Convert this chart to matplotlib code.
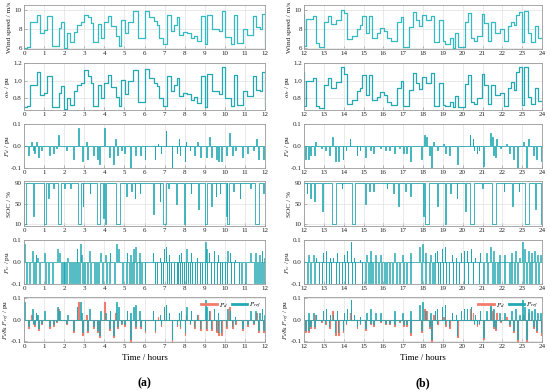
import numpy as np
import matplotlib
matplotlib.use("Agg")
from matplotlib import pyplot as plt
from matplotlib.ticker import FormatStrFormatter
from matplotlib.lines import Line2D

plt.rcParams["font.family"] = ["Liberation Serif", "DejaVu Serif"]
plt.rcParams["mathtext.fontset"] = "stix"
plt.rcParams["axes.unicode_minus"] = False

# wind speed steps: hour where the step starts, speed (m/s), rotor speed (pu)
wind_t = [0.0, 0.15, 0.3, 0.65, 0.8, 1.0, 1.15, 1.4, 1.75, 1.85,
          2.0, 2.12, 2.3, 2.5, 2.65, 2.85, 3.0, 3.2, 3.35, 3.45,
          3.7, 3.85, 4.0, 4.2, 4.35, 4.6, 4.75, 4.85, 5.05, 5.2,
          5.45, 5.7, 6.0, 6.2, 6.45, 6.6, 6.7, 6.9, 7.1, 7.3,
          7.45, 7.6, 7.7, 7.9, 8.1, 8.3, 8.45, 8.6, 8.8, 9.0,
          9.1, 9.35, 9.7, 9.85, 10.0, 10.3, 10.45, 10.6, 10.9, 11.1,
          11.4, 11.55, 11.75, 11.85,
          12.0, 12.1, 12.45, 12.6, 12.75, 13.0, 13.2, 13.35, 13.6, 13.85,
          14.0, 14.15, 14.4, 14.65, 14.8, 14.9, 15.15, 15.3, 15.45, 15.7,
          15.85, 16.05, 16.2, 16.4, 16.7, 16.9, 17.0, 17.3, 17.5, 17.65,
          17.8, 17.95, 18.15, 18.4, 18.55, 18.8, 19.0, 19.1, 19.35, 19.5,
          19.6, 19.75, 20.1, 20.25, 20.4, 20.55, 20.7, 20.95, 21.1, 21.3,
          21.45, 21.65, 21.9, 22.1, 22.3, 22.45, 22.6, 22.7, 22.85, 23.0,
          23.1, 23.3, 23.45, 23.65, 23.8]
wind_v = [6.0, 6.1, 8.7, 9.5, 7.6, 7.9, 9.3, 6.2, 8.1, 8.7,
          6.0, 7.6, 6.6, 7.7, 8.4, 8.7, 9.5, 9.2, 8.6, 6.6,
          8.5, 7.1, 8.7, 9.4, 8.3, 7.3, 6.2, 8.9, 7.6, 8.7,
          9.9, 7.0, 9.9, 9.2, 8.8, 8.4, 7.0, 6.4, 9.5, 7.8,
          8.4, 9.2, 7.4, 7.7, 7.6, 7.0, 7.3, 6.7, 9.4, 6.4,
          9.5, 8.0, 7.8, 9.9, 7.2, 6.4, 9.5, 6.5, 8.0, 7.4,
          9.4, 8.2, 8.0, 9.6,
          6.2, 9.0, 9.3, 6.5, 6.1, 8.7, 9.4, 8.5, 8.9, 10.0,
          9.7, 6.9, 7.3, 8.0, 8.4, 9.4, 7.6, 9.4, 7.1, 7.6,
          8.1, 7.8, 7.0, 6.7, 8.7, 9.2, 6.1, 8.2, 9.8, 8.9,
          8.3, 9.5, 8.9, 9.3, 6.6, 8.9, 6.7, 6.4, 7.1, 6.0,
          7.6, 6.1, 8.7, 9.7, 7.0, 6.7, 7.3, 9.6, 8.6, 6.7,
          8.7, 7.6, 8.0, 6.7, 8.3, 8.7, 8.4, 9.5, 9.8, 6.6,
          9.9, 7.6, 6.6, 8.3, 7.0]
wr_v = [0.70, 0.71, 0.95, 1.10, 0.84, 0.86, 1.05, 0.70, 0.86, 0.94,
        0.68, 0.80, 0.73, 0.88, 0.95, 0.97, 1.12, 1.05, 0.98, 0.72,
        0.95, 0.80, 0.97, 1.07, 0.93, 0.82, 0.72, 1.01, 0.85, 1.00,
        1.12, 0.76, 1.13, 1.03, 0.97, 0.94, 0.80, 0.72, 1.05, 0.88,
        0.95, 1.03, 0.83, 0.86, 0.85, 0.78, 0.82, 0.75, 1.05, 0.70,
        1.08, 0.88, 0.85, 1.15, 0.80, 0.72, 1.07, 0.73, 0.88, 0.83,
        1.05, 0.90, 0.88, 1.10,
        0.72, 1.00, 1.03, 0.72, 0.69, 0.95, 1.03, 0.92, 0.99, 1.15,
        1.08, 0.74, 0.78, 0.88, 0.92, 1.06, 0.84, 1.06, 0.78, 0.82,
        0.87, 0.84, 0.76, 0.73, 0.92, 1.00, 0.71, 0.90, 1.09, 0.98,
        0.91, 1.04, 0.97, 1.09, 0.72, 0.97, 0.73, 0.71, 0.76, 0.70,
        0.83, 0.70, 0.96, 1.07, 0.76, 0.74, 0.80, 1.08, 0.95, 0.74,
        0.95, 0.84, 0.86, 0.72, 0.92, 0.99, 0.90, 1.10, 1.15, 0.73,
        1.15, 0.82, 0.74, 0.92, 0.77]

# P_d spikes
pd_neg_t = [0.2, 0.45, 0.5, 0.7, 0.85, 1.25, 1.45, 1.6, 2.1, 2.45,
            2.9, 3.15, 3.45, 3.65, 3.75, 4.25, 4.45, 4.65, 4.85, 5.0,
            5.3, 5.55, 5.8, 6.0, 6.5, 6.8, 7.35, 7.6, 7.75, 8.0,
            8.25, 8.45, 8.75, 9.05, 9.3, 9.55, 9.65, 9.8, 10.05, 10.35,
            10.5, 10.85, 11.1, 11.4, 11.65, 11.9,
            12.05, 12.2, 12.3, 12.5, 12.85, 13.05, 13.25, 13.55, 13.7, 13.95,
            14.1, 14.65, 14.8, 15.1, 15.35, 15.5, 15.85, 16.1, 16.3, 16.55,
            16.8, 17.0, 17.15, 17.35, 17.9, 18.3, 18.4, 18.7, 19.1, 19.3,
            19.7, 20.55, 20.7, 20.8, 21.05, 21.55, 21.65, 21.9, 22.35, 22.55,
            22.75, 23.2, 23.55, 23.7, 23.95]
pd_neg_v = [-0.04, -0.02, -0.03, -0.05, -0.02, -0.04, -0.03, -0.01, -0.02, -0.06,
            -0.07, -0.06, -0.04, -0.06, -0.08, -0.05, -0.08, -0.04, -0.02, -0.03,
            -0.10, -0.04, -0.04, -0.06, -0.06, -0.03, -0.10, -0.03, -0.04, -0.07,
            -0.02, -0.04, -0.05, -0.05, -0.05, -0.06, -0.07, -0.07, -0.04, -0.04,
            -0.02, -0.05, -0.03, -0.02, -0.06, -0.06,
            -0.06, -0.06, -0.04, -0.04, -0.01, -0.02, -0.04, -0.07, -0.07, -0.06,
            -0.02, -0.04, -0.02, -0.05, -0.02, -0.03, -0.01, -0.02, -0.02, -0.03,
            -0.01, -0.03, -0.03, -0.07, -0.06, -0.04, -0.10, -0.02, -0.03, -0.04,
            -0.08, -0.02, -0.03, -0.02, -0.09, -0.04, -0.05, -0.01, -0.03, -0.06,
            -0.10, -0.10, -0.04, -0.06, -0.07]
pd_pos_t = [0.35, 0.6, 1.7, 2.7, 3.1, 4.0, 4.55, 6.65, 7.05, 7.7,
            8.05, 8.6, 9.2, 10.2, 11.55,
            12.55, 13.4, 14.3, 18.05, 18.15, 18.5, 19.0, 20.35, 20.5, 21.4,
            21.48, 21.7, 22.2, 23.05, 23.3]
pd_pos_v = [0.02, 0.02, 0.05, 0.08, 0.02, 0.08, 0.03, 0.01, 0.07, 0.03,
            0.02, 0.02, 0.04, 0.06, 0.03,
            0.02, 0.04, 0.03, 0.05, 0.04, 0.02, 0.01, 0.05, 0.03, 0.06,
            0.04, 0.03, 0.01, 0.02, 0.03]
# P_ref dips at the P_d dip times
pref_neg_v = [-0.03, -0.015, -0.02, -0.04, -0.015, -0.03, -0.02, -0.008, -0.015, -0.05,
              -0.06, -0.05, -0.03, -0.05, -0.07, -0.04, -0.07, -0.03, -0.015, -0.02,
              -0.09, -0.03, -0.03, -0.05, -0.05, -0.02, -0.09, -0.02, -0.03, -0.06,
              -0.015, -0.03, -0.04, -0.04, -0.04, -0.05, -0.06, -0.06, -0.03, -0.03,
              -0.015, -0.04, -0.02, -0.015, -0.05, -0.05,
              -0.05, -0.05, -0.03, -0.03, -0.008, -0.015, -0.03, -0.06, -0.06, -0.05,
              -0.015, -0.03, -0.015, -0.04, -0.015, -0.02, -0.008, -0.015, -0.015, -0.02,
              -0.008, -0.02, -0.02, -0.06, -0.05, -0.03, -0.09, -0.015, -0.02, -0.03,
              -0.07, -0.015, -0.02, -0.015, -0.08, -0.03, -0.04, -0.008, -0.02, -0.05,
              -0.09, -0.09, -0.03, -0.05, -0.06]

# SOC dips: start hour, end hour, lowest SOC (%)
soc_t0 = [0.0, 0.45, 1.02, 1.2, 1.45, 1.7, 2.0, 2.3, 2.7, 2.93,
          3.28, 3.62, 3.93, 4.05, 4.6, 5.1, 5.35, 5.52, 5.78, 6.42,
          6.75, 6.94, 7.18, 7.58, 7.98, 8.3, 8.66, 9.0, 9.33, 9.55,
          9.75, 10.05, 10.12, 10.42, 10.75, 11.25, 11.5, 11.9,
          12.13, 12.3, 12.5, 12.9, 13.4, 13.9, 14.4, 15.08, 15.3, 15.5,
          16.18, 16.5, 16.76, 17.1, 17.35, 18.0, 18.1, 18.7, 19.12, 19.37,
          19.7, 20.13, 20.38, 20.97, 21.48, 22.07, 22.49, 22.82, 23.16, 23.67,
          23.95]
soc_t1 = [0.08, 0.48, 1.08, 1.23, 1.47, 1.86, 2.02, 2.32, 2.82, 2.96,
          3.31, 3.77, 4.0, 4.1, 4.76, 5.13, 5.37, 5.55, 5.8, 6.46,
          6.78, 7.08, 7.2, 7.62, 8.04, 8.33, 8.7, 9.1, 9.36, 9.58,
          9.78, 10.1, 10.22, 10.45, 10.78, 11.28, 11.72, 11.93,
          12.16, 12.33, 12.54, 12.95, 13.6, 13.93, 14.58, 15.12, 15.33, 15.53,
          16.21, 16.53, 16.8, 17.13, 17.38, 18.04, 18.28, 18.74, 19.18, 19.4,
          19.73, 20.18, 20.55, 21.0, 21.68, 22.1, 22.53, 22.85, 23.36, 23.72,
          24.0]
soc_min = [10, 25, 10, 60, 80, 10, 80, 80, 10, 45,
           70, 10, 22, 10, 10, 65, 75, 60, 70, 30,
           55, 10, 80, 50, 10, 70, 40, 10, 45, 65,
           70, 25, 10, 75, 60, 80, 10, 70,
           70, 60, 55, 35, 10, 80, 10, 50, 75, 75,
           80, 70, 45, 75, 65, 25, 10, 45, 10, 70,
           60, 35, 10, 80, 10, 75, 45, 75, 10, 40,
           10]

# P_w: saturated negative pulses and positive spikes
pw_min = -0.095
pw_neg_t = [0.1, 0.25, 0.45, 0.55, 0.75, 1.05, 1.2, 1.4, 1.85, 1.95,
            2.0, 2.1, 2.25, 2.35, 2.45, 2.55, 2.65, 2.75, 2.9, 3.0,
            3.15, 3.3, 3.5, 3.6, 3.7, 3.9, 4.1, 4.25, 4.5, 4.9,
            5.1, 5.25, 5.35, 5.45, 5.6, 5.75, 5.85, 6.0, 6.5, 6.6,
            6.8, 6.9, 7.1, 7.2, 7.3, 7.45, 7.6, 7.65, 7.75, 7.85,
            7.95, 8.05, 8.15, 8.25, 8.35, 8.5, 8.6, 8.75, 8.85, 9.0,
            9.1, 9.3, 9.45, 9.6, 9.75, 9.85, 10.0, 10.1, 10.3, 10.45,
            10.7, 10.8, 11.0, 11.45, 11.55, 11.65, 11.75, 11.85, 11.95,
            12.15, 12.3, 12.5, 12.75, 12.9, 13.1, 13.25, 13.35, 13.6, 13.75,
            13.9, 14.05, 14.2, 14.4, 14.55, 14.9, 15.1, 15.25, 15.35, 15.45,
            15.6, 15.75, 15.9, 16.05, 16.15, 16.3, 16.45, 16.65, 16.8, 17.0,
            17.15, 17.35, 17.9, 18.1, 18.3, 18.45, 18.55, 18.75, 18.85, 19.0,
            19.15, 19.3, 19.5, 19.65, 19.8, 20.05, 20.25, 20.5, 20.8, 21.05,
            21.25, 21.5, 21.6, 21.75, 21.85, 22.1, 22.35, 22.45, 22.6, 22.75,
            23.05, 23.2, 23.35, 23.45, 23.65, 23.8]
pw_pos_t = [0.02, 0.4, 0.58, 0.65, 1.0, 1.65, 1.75, 2.15, 2.62, 2.79,
            2.85, 3.25, 3.8, 4.05, 4.27, 4.58, 4.68, 5.12, 5.3, 5.45,
            5.55, 5.75, 6.4, 6.75, 6.95, 7.05, 7.2, 7.7, 7.8, 8.07,
            8.3, 8.6, 9.01, 9.08, 9.2, 9.45, 9.65, 10.12, 10.25, 10.5,
            11.25, 11.5, 11.7, 11.83, 11.95,
            12.2, 12.45, 12.6, 12.95, 13.1, 13.3, 13.45, 13.65, 14.0, 14.15,
            14.35, 14.5, 14.8, 15.15, 15.35, 15.6, 15.85, 16.55, 16.95, 17.35,
            17.8, 17.95, 18.1, 18.35, 18.6, 18.7, 18.95, 19.1, 19.45, 19.65,
            19.9, 20.05, 20.2, 20.4, 20.6, 20.85, 21.2, 21.4, 21.55, 21.85,
            22.1, 22.45, 22.65, 22.85, 23.0, 23.1, 23.3, 23.45, 23.6, 23.75,
            23.9]
pw_pos_v = [0.08, 0.05, 0.03, 0.02, 0.04, 0.06, 0.04, 0.02, 0.06, 0.08,
            0.03, 0.05, 0.04, 0.03, 0.04, 0.08, 0.06, 0.04, 0.03, 0.06,
            0.07, 0.04, 0.04, 0.02, 0.06, 0.07, 0.03, 0.03, 0.04, 0.06,
            0.04, 0.02, 0.09, 0.06, 0.04, 0.05, 0.03, 0.05, 0.04, 0.01,
            0.04, 0.04, 0.03, 0.05, 0.02,
            0.03, 0.03, 0.02, 0.04, 0.05, 0.02, 0.02, 0.04, 0.03, 0.05,
            0.09, 0.02, 0.01, 0.03, 0.05, 0.03, 0.03, 0.04, 0.03, 0.04,
            0.07, 0.08, 0.04, 0.03, 0.04, 0.05, 0.06, 0.07, 0.03, 0.02,
            0.04, 0.05, 0.05, 0.06, 0.02, 0.04, 0.04, 0.07, 0.05, 0.03,
            0.03, 0.04, 0.05, 0.02, 0.09, 0.06, 0.05, 0.04, 0.05, 0.03,
            0.03]

TEAL = "#23a9b3"
RED = "#f47b6b"


def steps(t, v, t_end=24.0):
    return np.append(t, t_end), np.append(v, v[-1])


def pulses(t, v, width, base=0.0, t_end=24.0):
    t = np.asarray(t, float)
    v = np.asarray(v, float)
    xs, ys = [0.0], [base]
    for i in np.argsort(t):
        xs += [t[i], t[i], t[i] + width, t[i] + width]
        ys += [base, v[i], v[i], base]
    xs.append(t_end)
    ys.append(base)
    return np.array(xs), np.array(ys)


def dips(t0, t1, vmin, base=90.0, t_end=24.0):
    xs, ys = [0.0], [base]
    for a, b, m in zip(t0, t1, vmin):
        xs += [a, a, b, b]
        ys += [base, m, m, base]
    xs.append(t_end)
    ys.append(base)
    return np.array(xs), np.array(ys)


fig = plt.figure(figsize=(5.5, 3.92), dpi=100)
W, H = 550.0, 392.0
cols = [(24, 241, 0, "(a)"), (304, 238, 12, "(b)")]
rows = [(5, 49), (63, 110), (124, 168), (181, 226), (240, 284), (297, 342)]

wx, wy = steps(wind_t, wind_v)
rx, ry = steps(wind_t, wr_v)
pd_x, pd_y = pulses(pd_neg_t + pd_pos_t, pd_neg_v + pd_pos_v, 0.04)
sx, sy = dips(soc_t0, soc_t1, soc_min)
pw_x, pw_y = pulses(pw_neg_t + pw_pos_t, [pw_min] * len(pw_neg_t) + pw_pos_v, 0.03)
ref_x, ref_y = pulses(pd_neg_t + pw_pos_t, pref_neg_v + pw_pos_v, 0.03)

specs = [
    ((5.9, 10.5), [6, 8, 10], "Wind speed / m/s", "%d"),
    ((0.67, 1.2), [0.8, 1.0, 1.2], r"$\omega_r$ / pu", "%.1f"),
    ((-0.1, 0.1), [-0.1, 0.0, 0.1], r"$P_d$ / pu", "%.1f"),
    ((6, 94), [10, 50, 90], "SOC / %", "%d"),
    ((-0.1, 0.1), [-0.1, 0.0, 0.1], r"$P_w$ / pu", "%.1f"),
    ((-0.105, 0.105), [-0.1, 0.0, 0.1], r"$P_d$& $P_{ref}$ / pu", "%.1f"),
]

for x0, w, t0, tag in cols:
    for r, (top, bot) in enumerate(rows):
        ax = fig.add_axes([x0 / W, 1 - bot / H, w / W, (bot - top) / H])
        ylim, yt, ylab, fmt = specs[r]
        if r == 0:
            ax.plot(wx, wy, color="#35b9c2", lw=0.9, drawstyle="steps-post")
        elif r == 1:
            ax.plot(rx, ry, color=TEAL, lw=0.9, drawstyle="steps-post")
        elif r == 2:
            ax.plot(pd_x, pd_y, color=TEAL, lw=0.6)
        elif r == 3:
            ax.plot(sx, sy, color=TEAL, lw=0.6)
        elif r == 4:
            ax.plot(pw_x, pw_y, color=TEAL, lw=0.55)
        else:
            ax.plot(pd_x, pd_y, color=RED, lw=0.8)
            ax.plot(ref_x, ref_y, color=TEAL, lw=0.6)
            handles = [Line2D([], [], color=RED, lw=2), Line2D([], [], color=TEAL, lw=2)]
            ax.legend(handles, [r"$P_d$", r"$P_{ref}$"], ncol=2, loc="upper right",
                      frameon=False, fontsize=5, handlelength=2.2, columnspacing=0.6,
                      handletextpad=0.3, borderaxespad=0.1)
        ax.set_xlim(t0, t0 + 12)
        ax.set_xticks(range(t0, t0 + 13))
        ax.set_ylim(*ylim)
        ax.set_yticks(yt)
        ax.yaxis.set_major_formatter(FormatStrFormatter(fmt))
        ax.grid(True, color="#e2e2e2", lw=0.5)
        ax.set_axisbelow(True)
        for s in ax.spines.values():
            s.set_color("#9a9a9a")
            s.set_linewidth(0.6)
        ax.tick_params(direction="in", length=2, width=0.4, color="#888888",
                       labelsize=5, pad=1.5, labelcolor="#222222")
        ax.set_ylabel(ylab, fontsize=5.3, color="#222222")
        ax.yaxis.set_label_coords(-12.0 / w, 0.5)
    cx = (x0 + w / 2) / W
    fig.text(cx, 1 - 358 / H, "Time / hours", ha="center", va="center", fontsize=6.5)
    fig.text(cx, 1 - 383 / H, tag, ha="center", va="center", fontsize=8.5, fontweight="bold")

fig.savefig("out.png", dpi=100)
